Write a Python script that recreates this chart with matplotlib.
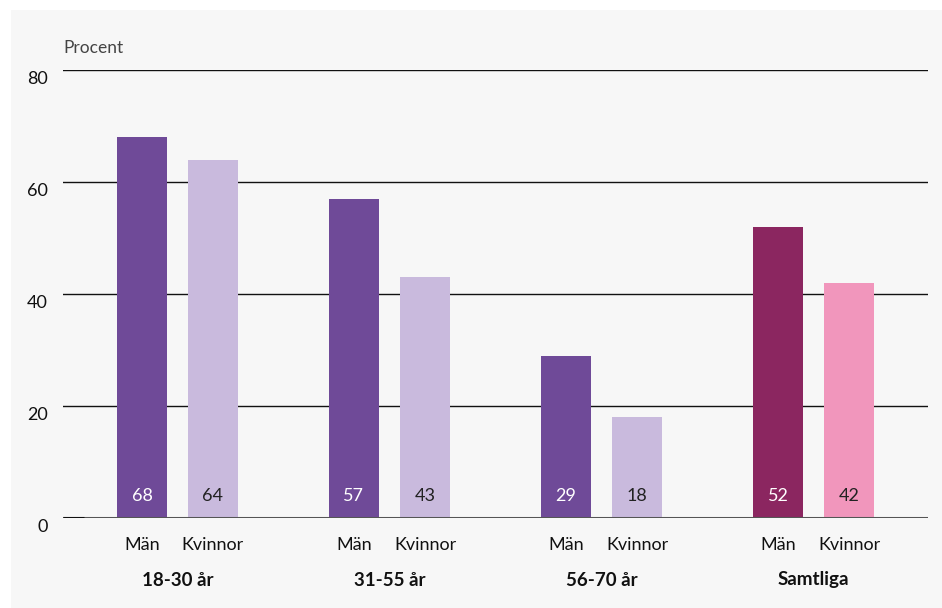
import matplotlib.pyplot as plt
import matplotlib.transforms as mtransforms
import numpy as np

plt.rcParams['font.family'] = ['Lato', 'DejaVu Sans']

groups = ['18-30 år', '31-55 år', '56-70 år', 'Samtliga']
sexes = ['Män', 'Kvinnor']
man = [68, 57, 29, 52]
kvinnor = [64, 43, 18, 42]
man_colors = ['#6f4a98', '#6f4a98', '#6f4a98', '#8b2660']
kv_colors = ['#c9badd', '#c9badd', '#c9badd', '#f196bc']
yticks = [0, 20, 40, 60, 80]

fig = plt.figure(figsize=(9.42, 6.08), dpi=100, facecolor='white')
# grey panel behind the chart
panel = plt.Rectangle((11 / 942, 0), 1, 598 / 608, transform=fig.transFigure,
                      facecolor='#f7f7f7', edgecolor='none', zorder=-10)
fig.add_artist(panel)

ax = fig.add_axes([63 / 942, 90 / 608, 865 / 942, 448 / 608])
ax.set_zorder(1)
ax.set_facecolor('none')

x = np.arange(len(groups))
w = 0.236
off = 0.1675
ax.bar(x - off, man, w, color=man_colors, zorder=2)
ax.bar(x + off, kvinnor, w, color=kv_colors, zorder=2)

for i in range(len(groups)):
    ax.text(x[i] - off, 4, str(man[i]), ha='center', va='center', color='white', fontsize=13, zorder=3)
    ax.text(x[i] + off, 4, str(kvinnor[i]), ha='center', va='center', color='#222222', fontsize=13, zorder=3)

ax.set_xlim(-0.54, 3.54)
ax.set_ylim(0, 80)
for s in ax.spines.values():
    s.set_visible(False)
ax.set_xticks([])
ax.set_yticks([])

for t in yticks[1:]:
    ax.axhline(t, color='#111111', linewidth=1.0, zorder=1)
ax.axhline(0, color='#555555', linewidth=2.2, zorder=4)
ax.plot([-0.54, -0.44], [0, 0], color='#111111', linewidth=2.2, zorder=5, solid_capstyle='butt')

# y tick labels
lab_tr = ax.get_yaxis_transform() + mtransforms.ScaledTranslation(-0.15, -0.09, fig.dpi_scale_trans)
for t in yticks:
    ax.text(0, t, str(t), transform=lab_tr, ha='right', va='center', fontsize=13, color='#111111')

ax.text(0, 1.0, 'Procent', transform=ax.transAxes + mtransforms.ScaledTranslation(0, 0.14, fig.dpi_scale_trans),
        ha='left', va='bottom', fontsize=12.5, color='#444444')

# category labels below
sub_tr = ax.get_xaxis_transform() + mtransforms.ScaledTranslation(0, -0.27, fig.dpi_scale_trans)
grp_tr = ax.get_xaxis_transform() + mtransforms.ScaledTranslation(0, -0.62, fig.dpi_scale_trans)
for i, g in enumerate(groups):
    ax.text(x[i] - off, 0, sexes[0], transform=sub_tr, ha='center', va='center', fontsize=13, color='#111111')
    ax.text(x[i] + off, 0, sexes[1], transform=sub_tr, ha='center', va='center', fontsize=13, color='#111111')
    ax.text(x[i], 0, g, transform=grp_tr, ha='center', va='center', fontsize=13.5, fontweight='bold', color='#111111')

fig.savefig('out.png', dpi=100, facecolor='white')
